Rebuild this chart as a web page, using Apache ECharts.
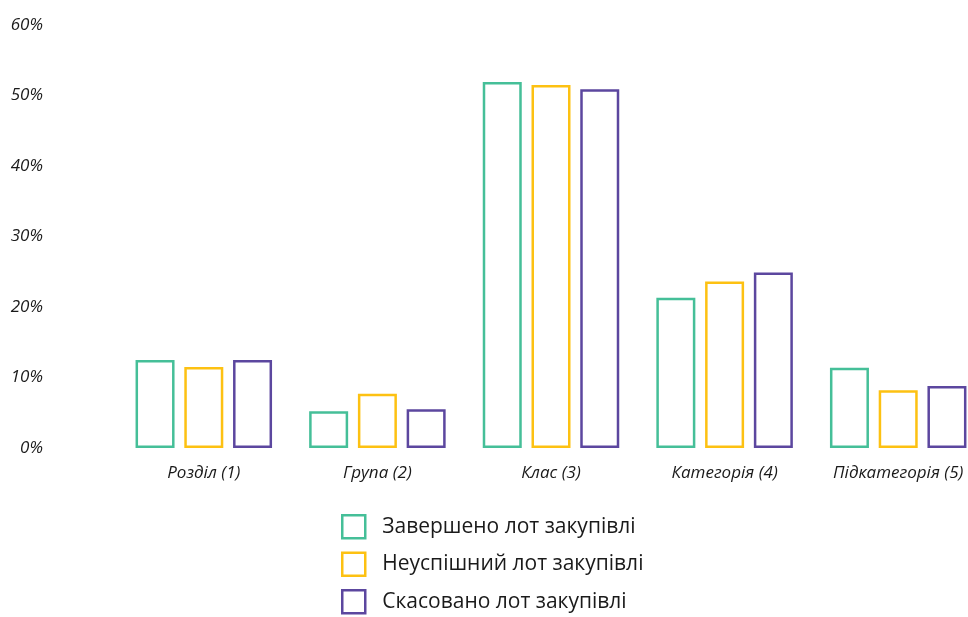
<!DOCTYPE html>
<html>
<head>
<meta charset="utf-8">
<script src="https://cdn.jsdelivr.net/npm/echarts@6/dist/echarts.min.js"></script>
<style>
  html, body { margin: 0; padding: 0; background: #fff; overflow: hidden; }
  /* полотно трохи ширше за вікно: останній стовпчик обрізано краєм, як в оригіналі */
  #chart { width: 985px; height: 617px; }
</style>
</head>
<body>
<div id="chart"></div>
<script>
  // дані
  var categories = ['Розділ (1)', 'Група (2)', 'Клас (3)', 'Категорія (4)', 'Підкатегорія (5)']
  var seriesNames = ['Завершено лот закупівлі', 'Неуспішний лот закупівлі', 'Скасовано лот закупівлі']
  var completed = [12.5, 5.2, 51.9, 21.3, 11.4]
  var unsuccessful = [11.5, 7.7, 51.5, 23.6, 8.2]
  var cancelled = [12.5, 5.5, 50.9, 24.9, 8.8]
  var colors = ['#45bf98', '#fdc112', '#5c479f']

  var myChart = echarts.init(document.getElementById('chart'))

  function makeSeries (name, data, color) {
    return {
      name: name,
      type: 'bar',
      data: data,
      barWidth: 39,
      barGap: '25%',
      itemStyle: {
        color: '#fff',
        borderColor: color,
        borderWidth: 2.5
      }
    }
  }

  var option = {
    animation: false,
    color: colors,
    grid: {
      left: 117,
      top: 25,
      right: 0,
      height: 423,
      containLabel: false
    },
    legend: {
      orient: 'vertical',
      left: 336,
      top: 509,
      height: 130,
      itemWidth: 23,
      itemHeight: 23,
      itemGap: 12,
      icon: 'rect',
      itemStyle: { borderWidth: 2.5 },
      textStyle: {
        fontFamily: 'Open Sans',
        fontSize: 21,
        lineHeight: 23,
        color: '#1a1a1a',
        padding: [0, 0, 0, 12]
      },
      data: seriesNames
    },
    xAxis: {
      type: 'category',
      data: categories,
      axisLine: { show: false },
      axisTick: { show: false },
      axisLabel: {
        margin: 17,
        fontFamily: 'Open Sans',
        fontStyle: 'italic',
        fontSize: 17,
        color: '#1a1a1a'
      }
    },
    yAxis: {
      type: 'value',
      min: 0,
      max: 60,
      interval: 10,
      axisLine: { show: false },
      axisTick: { show: false },
      splitLine: { show: false },
      axisLabel: {
        margin: 74,
        fontFamily: 'Open Sans',
        fontStyle: 'italic',
        fontSize: 17,
        color: '#1a1a1a',
        padding: [0, 0, 11, 0],
        formatter: '{value}%'
      }
    },
    series: [
      makeSeries(seriesNames[0], completed, colors[0]),
      makeSeries(seriesNames[1], unsuccessful, colors[1]),
      makeSeries(seriesNames[2], cancelled, colors[2])
    ]
  }
  myChart.setOption(option, true)
</script>
</body>
</html>
